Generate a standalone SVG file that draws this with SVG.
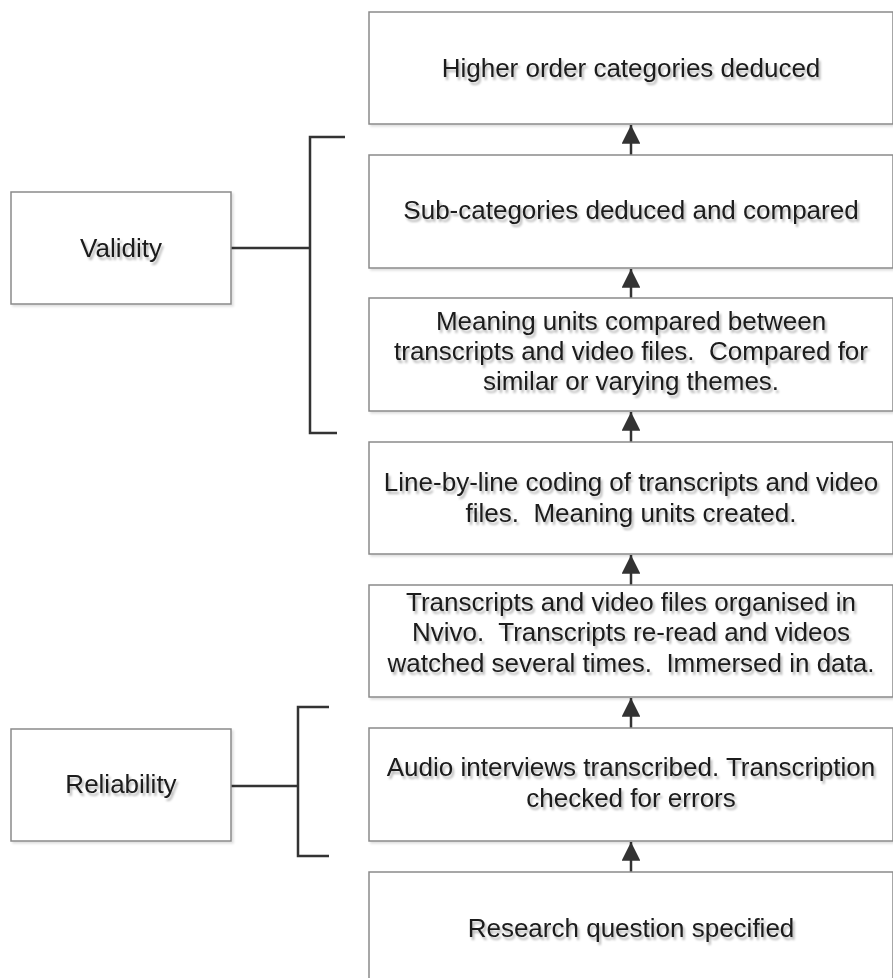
<svg xmlns="http://www.w3.org/2000/svg" width="893" height="978" viewBox="0 0 893 978">
<style>
.box{fill:#fff;stroke:#8a8a8a;stroke-width:1.5}
.t{font-family:"Liberation Sans",Arial,sans-serif;font-size:26px;fill:#1a1a1a;text-anchor:middle;white-space:pre}
.c{stroke:#333;stroke-width:2.5;fill:none}
</style>
<defs>
<filter id="sh" x="-5%" y="-20%" width="110%" height="150%">
<feDropShadow dx="2" dy="3" stdDeviation="1" flood-color="#000" flood-opacity="0.28"/>
</filter>
<filter id="bs" x="-5%" y="-5%" width="110%" height="110%">
<feDropShadow dx="2" dy="2" stdDeviation="1" flood-color="#000" flood-opacity="0.12"/>
</filter>
<marker id="ah" viewBox="0 0 10 10" refX="10" refY="5" markerWidth="7.5" markerHeight="7.5" markerUnits="strokeWidth" orient="auto">
<path d="M0,0 L10,5 L0,10 z" fill="#333"/>
</marker>
</defs>
<rect width="893" height="978" fill="#fff"/>
<g id="connectors">
<line class="c" x1="631" y1="155" x2="631" y2="125" marker-end="url(#ah)"/>
<line class="c" x1="631" y1="298" x2="631" y2="269" marker-end="url(#ah)"/>
<line class="c" x1="631" y1="442" x2="631" y2="412" marker-end="url(#ah)"/>
<line class="c" x1="631" y1="585" x2="631" y2="555" marker-end="url(#ah)"/>
<line class="c" x1="631" y1="728" x2="631" y2="698" marker-end="url(#ah)"/>
<line class="c" x1="631" y1="872" x2="631" y2="842" marker-end="url(#ah)"/>
<path class="c" d="M231,248 H310 M345,137 H310 V433 H337"/>
<path class="c" d="M231,786 H298 M329,707 H298 V856 H329"/>
</g>
<g id="n1"><rect class="box" filter="url(#bs)" x="369" y="12" width="524" height="112"/>
<text class="t" filter="url(#sh)" x="631" y="77">Higher order categories deduced</text></g>
<g id="n2"><rect class="box" filter="url(#bs)" x="369" y="155" width="524" height="113"/>
<text class="t" filter="url(#sh)" x="631" y="219">Sub-categories deduced and compared</text></g>
<g id="n3"><rect class="box" filter="url(#bs)" x="369" y="298" width="524" height="113"/>
<text class="t" filter="url(#sh)" x="631" y="330">Meaning units compared between</text>
<text class="t" filter="url(#sh)" x="631" y="360">transcripts and video files.  Compared for</text>
<text class="t" filter="url(#sh)" x="631" y="390">similar or varying themes.</text></g>
<g id="n4"><rect class="box" filter="url(#bs)" x="369" y="442" width="524" height="112"/>
<text class="t" filter="url(#sh)" x="631" y="491">Line-by-line coding of transcripts and video</text>
<text class="t" filter="url(#sh)" x="631" y="522">files.  Meaning units created.</text></g>
<g id="n5"><rect class="box" filter="url(#bs)" x="369" y="585" width="524" height="112"/>
<text class="t" filter="url(#sh)" x="631" y="611">Transcripts and video files organised in</text>
<text class="t" filter="url(#sh)" x="631" y="641">Nvivo.  Transcripts re-read and videos</text>
<text class="t" filter="url(#sh)" x="631" y="672">watched several times.  Immersed in data.</text></g>
<g id="n6"><rect class="box" filter="url(#bs)" x="369" y="728" width="524" height="113"/>
<text class="t" filter="url(#sh)" x="631" y="776">Audio interviews transcribed. Transcription</text>
<text class="t" filter="url(#sh)" x="631" y="807">checked for errors</text></g>
<g id="n7"><rect class="box" filter="url(#bs)" x="369" y="872" width="524" height="120"/>
<text class="t" filter="url(#sh)" x="631" y="937">Research question specified</text></g>
<g id="validity"><rect class="box" filter="url(#bs)" x="11" y="192" width="220" height="112"/>
<text class="t" filter="url(#sh)" x="121" y="257">Validity</text></g>
<g id="reliability"><rect class="box" filter="url(#bs)" x="11" y="729" width="220" height="112"/>
<text class="t" filter="url(#sh)" x="121" y="793">Reliability</text></g>
</svg>
